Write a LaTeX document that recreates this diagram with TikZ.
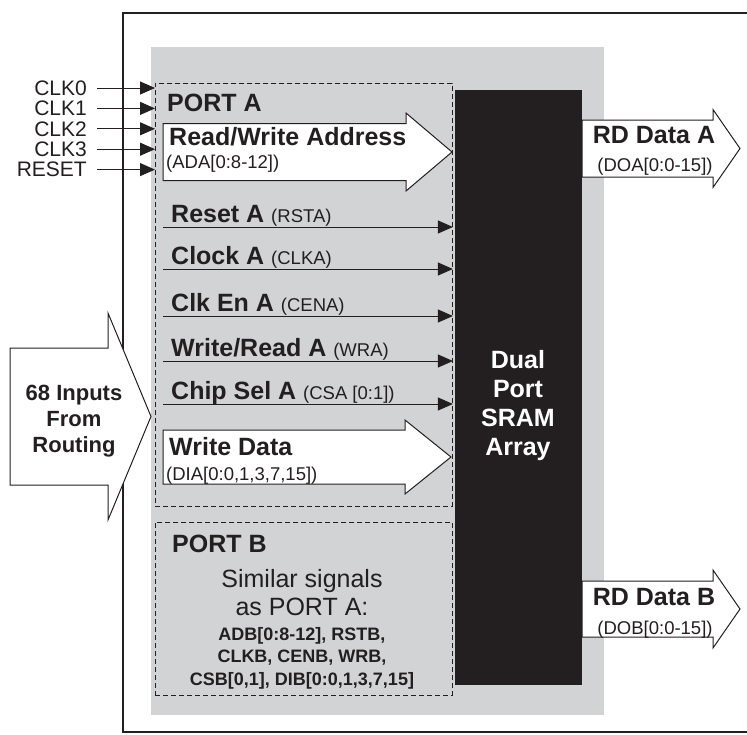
\documentclass[tikz,border=0pt]{standalone}
\usepackage{fontspec}
\setmainfont{Liberation Sans}
\usetikzlibrary{arrows.meta}

\definecolor{ink}{HTML}{231F20}
\definecolor{panel}{HTML}{D1D3D4}

\newcommand{\labfont}{\fontsize{25}{28}\selectfont\bfseries}
\newcommand{\pinfont}{\fontsize{18.5}{20}\selectfont\mdseries}

% block arrow: left, neck, tip, middle, half body, half head
\newcommand{\blockarr}[6]{%
  \draw[fat] (#1,#4-#5) -- (#2,#4-#5) -- (#2,#4-#6) -- (#3,#4)
    -- (#2,#4+#6) -- (#2,#4+#5) -- (#1,#4+#5) -- cycle;}

\tikzset{
  fat/.style={draw=ink,fill=white,line width=1pt,line join=miter},
  sig/.style={draw=ink,line width=1pt,-{Triangle[length=15pt,width=13pt]}},
  portbox/.style={draw=ink,line width=0.9pt,dash pattern=on 5pt off 3pt,
    inner sep=0pt,anchor=north west},
  lab/.style={anchor=base west,inner sep=0pt},
}

\begin{document}
\begin{tikzpicture}[x=1pt,y=-1pt,text=ink]
  \useasboundingbox (0,0) rectangle (747,734);

  % outer frame, open to the right
  \draw[ink,line width=1.2pt] (747,13) -- (123,13) -- (123,732) -- (747,732);

  % grey block with the two ports and the array
  \fill[panel] (151,47) rectangle (604,715);
  \node[portbox,minimum width=297pt,minimum height=423pt] (porta) at (155,83) {};
  \node[portbox,minimum width=297pt,minimum height=173pt] (portb) at (155,522) {};
  \node[fill=ink,inner sep=0pt,anchor=north west,minimum width=127pt,
    minimum height=595pt] (sram) at (455,90) {};
  \node[text=white,align=center,font=\fontsize{25}{29}\selectfont\bfseries]
    (sramtext) at (518,406) {Dual\\Port\\SRAM\\Array};

  % clocks and reset
  \foreach \name [count=\i from 0] in {CLK0,CLK1,CLK2,CLK3,RESET}{
      \pgfmathsetmacro{\yy}{88+20.4*\i}
      \node[anchor=east,inner sep=0pt,font=\fontsize{21}{24}\selectfont]
        (clk\i) at (87,\yy) {\name};
      \draw[sig] ([xshift=10pt]clk\i.east) -- (clk\i -| porta.west);
  }

  % port A
  \node[lab,font=\labfont] (portalab) at (167,111) {PORT A};
  \blockarr{163}{406}{452}{152}{28.5}{39}
  \node[lab,font=\labfont] (adrlab) at (169,145) {Read/Write Address};
  \node[lab,font=\pinfont] (adrpin) at (166,168) {(ADA[0:8-12])};

  \foreach \lab/\pin/\yy [count=\i] in {{Reset A}/RSTA/227, {Clock A}/CLKA/269,
      {Clk En A}/CENA/316, {Write/Read A}/WRA/361, {Chip Sel A}/{CSA [0:1]}/404}{
      \node[lab] (sig\i) at (171,\yy-5) {\labfont\lab\ {\pinfont(\pin)}};
      \coordinate (sigin\i) at (163,\yy);
      \draw[sig] (sigin\i) -- (sigin\i -| porta.east);
  }

  \blockarr{163}{405}{451}{457}{27}{37}
  \node[lab,font=\labfont] (wdlab) at (169,455) {Write Data};
  \node[lab,font=\pinfont] (wdpin) at (166,480) {(DIA[0:0,1,3,7,15])};

  % routing inputs
  \blockarr{10}{108}{151}{416.5}{68.5}{103.5}
  \node[lab,anchor=base,align=center,font=\fontsize{22}{26}\selectfont\bfseries]
    (routing) at (74,452) {68 Inputs\\From\\Routing};

  % port B
  \node[lab,font=\labfont] (portblab) at (172,552) {PORT B};
  \node[lab,anchor=base,align=center,font=\fontsize{25}{28}\selectfont]
    (simlab) at (302,615) {Similar signals\\as PORT A:};
  \node[lab,anchor=base,align=center,font=\fontsize{18}{22.5}\selectfont\bfseries]
    (simpins) at (302,685) {ADB[0:8-12], RSTB,\\CLKB, CENB, WRB,\\CSB[0,1], DIB[0:0,1,3,7,15]};

  % read data outputs
  \blockarr{582}{713}{740}{148.5}{28.5}{39}
  \node[lab,anchor=base,font=\labfont] (rdalab) at (654,143) {RD Data A};
  \node[lab,anchor=base,font=\pinfont] (rdapin) at (655,171) {(DOA[0:0-15])};

  \blockarr{582}{713}{740}{609}{28}{39}
  \node[lab,anchor=base,font=\labfont] (rdblab) at (654,605) {RD Data B};
  \node[lab,anchor=base,font=\pinfont] (rdbpin) at (655,634) {(DOB[0:0-15])};
\end{tikzpicture}
\end{document}
